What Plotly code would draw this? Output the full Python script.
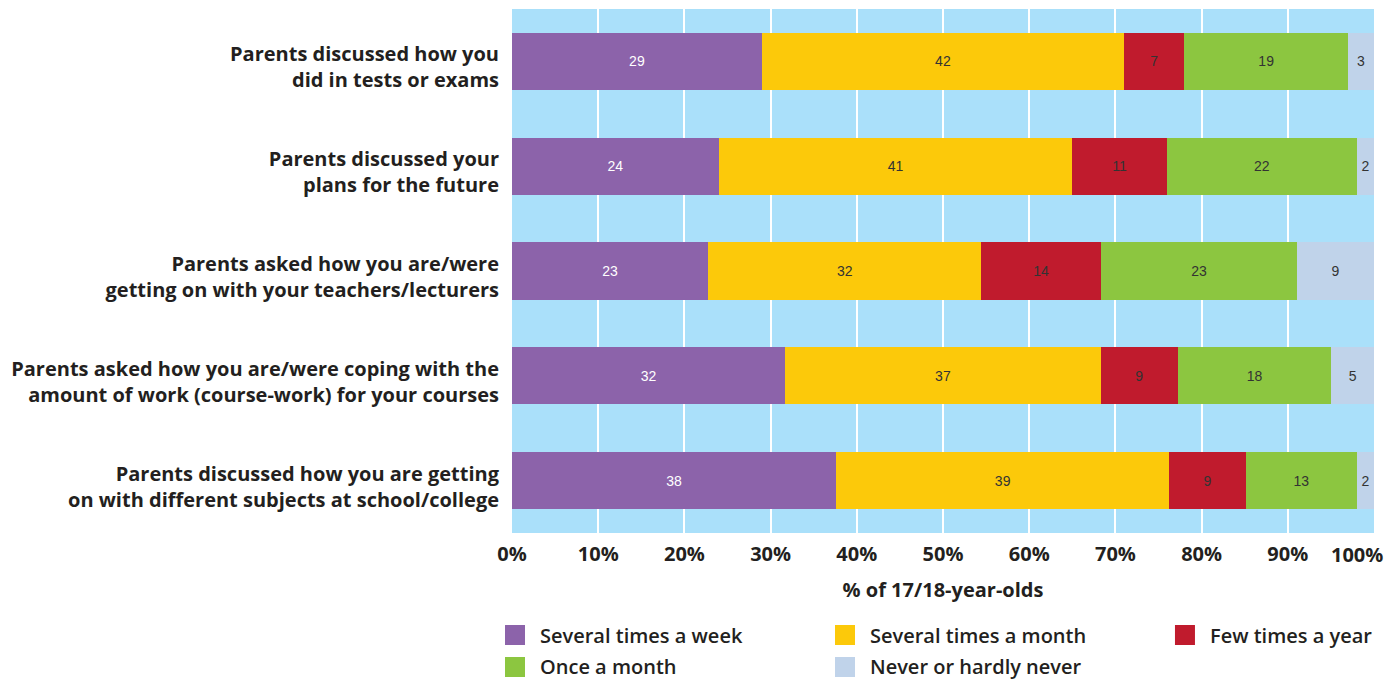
import plotly.graph_objects as go

# survey items (top to bottom)
questions = [
    "Parents discussed how you<br>did in tests or exams",
    "Parents discussed your<br>plans for the future",
    "Parents asked how you are/were<br>getting on with your teachers/lecturers",
    "Parents asked how you are/were coping with the<br>amount of work (course-work) for your courses",
    "Parents discussed how you are getting<br>on with different subjects at school/college",
]

several_week = [29, 24, 23, 32, 38]
several_month = [42, 41, 32, 37, 39]
few_year = [7, 11, 14, 9, 9]
once_month = [19, 22, 23, 18, 13]
never = [3, 2, 9, 5, 2]

series_names = ["Several times a week", "Several times a month", "Few times a year",
                "Once a month", "Never or hardly never"]
series_vals = [several_week, several_month, few_year, once_month, never]
colors = ["#8c63aa", "#fcc90a", "#c01b2d", "#8cc640", "#c0d3ea"]
text_colors = ["white", "#333333", "#333333", "#333333", "#333333"]

x_ticks = [0, 10, 20, 30, 40, 50, 60, 70, 80, 90, 100]
x_ticktext = [f"{v}%" for v in x_ticks]
last_tick = x_ticktext[-1]
x_ticktext[-1] = ""  # drawn separately so it stays inside the page

fig = go.Figure()
for name, vals, col, tcol in zip(series_names, series_vals, colors, text_colors):
    fig.add_trace(go.Bar(
        y=questions, x=vals, name=name, orientation="h",
        marker=dict(color=col, line=dict(width=0)),
        text=vals, textposition="inside", insidetextanchor="middle",
        textfont=dict(family="Liberation Sans, Arial", size=14, color=tcol),
        constraintext="none", showlegend=False, hoverinfo="x+name",
    ))

fig.add_annotation(x=x_ticks[-1], xref="x", y=0, yref="paper", text=last_tick,
                   showarrow=False, xanchor="right", yanchor="top", xshift=11, yshift=-6,
                   font=dict(family="Open Sans", size=20, weight="bold", color="#231f20"))

# legend drawn by hand, 3 columns
leg_x = [-0.0081, 0.3747, 0.7691]
leg_y = [-0.1947, -0.2557]
for i, (name, col) in enumerate(zip(series_names, colors)):
    r, c = divmod(i, 3)
    x0 = leg_x[c]
    y0 = leg_y[r]
    fig.add_shape(type="rect", xref="paper", yref="paper",
                  x0=x0, x1=x0 + 0.0232, y0=y0 - 0.0191, y1=y0 + 0.0191,
                  fillcolor=col, line=dict(width=0))
    fig.add_annotation(xref="paper", yref="paper", x=x0 + 0.0383, y=y0,
                       text=name, showarrow=False, xanchor="left", yanchor="middle",
                       font=dict(family="Open Sans", size=20, color="#231f20", weight=600))

fig.update_layout(
    barmode="stack", barnorm="percent", bargap=0.455,
    width=1397, height=682,
    margin=dict(l=512, r=23, t=9, b=149),
    plot_bgcolor="#aae0fa", paper_bgcolor="white",
    font=dict(family="Open Sans", color="#231f20"),
)
fig.update_xaxes(
    range=[0, 100], tickvals=x_ticks, ticktext=x_ticktext,
    showgrid=True, gridcolor="white", gridwidth=2, zeroline=False,
    tickfont=dict(family="Open Sans", size=20, weight="bold", color="#231f20"),
    automargin=False,
    title=dict(text="% of 17/18-year-olds", standoff=16,
               font=dict(family="Open Sans", size=20, weight="bold", color="#231f20")),
    ticks="outside", ticklen=3, tickcolor="rgba(0,0,0,0)", showline=False,
)
fig.update_yaxes(
    autorange="reversed", showgrid=False, ticks="", ticklabelstandoff=12,
    ticklabelshift=-6, automargin=False,
    tickfont=dict(family="Open Sans", size=20, weight="bold", color="#231f20"),
)

fig.write_html("out.html", config={"displayModeBar": False},
               post_script="document.body.style.margin='0';")
